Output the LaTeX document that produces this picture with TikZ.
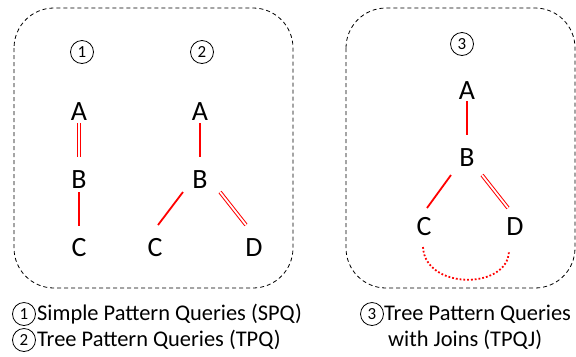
\documentclass[tikz,border=0pt]{standalone}
\usepackage{fontspec}
\setmainfont{Carlito}
\begin{document}
\begin{tikzpicture}[x=1bp,y=-1bp]
\tikzset{
  letter/.style={font=\fontsize{28}{28}\selectfont, inner sep=0pt},
  num/.style={draw, circle, line width=0.8bp, minimum size=23bp, inner sep=0pt, font=\fontsize{17}{17}\selectfont},
  edge/.style={draw=red, line width=1.8bp},
  dedge/.style={draw=red, line width=1bp, double=white, double distance=1.8bp},
  group/.style={draw, dashed, dash pattern=on 4bp off 3bp, line width=0.8bp, rounded corners=40bp},
  caption/.style={anchor=west, inner sep=0pt, font=\fontsize{22.5}{22.5}\selectfont}
}
\useasboundingbox (0,0) rectangle (576,356);
% dashed groups
\draw[group] (14,8) rectangle (293,288);
\draw[group] (346,8) rectangle (575,288);
% numbers
\node[num] (n1) at (82,52) {1};
\node[num] (n2) at (202,52) {2};
\node[num] (n3) at (462,44) {3};
% tree 1
\node[letter] (a1) at (79,112) {A};
\node[letter] (b1) at (79,180) {B};
\node[letter] (c1) at (79,248) {C};
\draw[dedge] ([yshift=-11bp]a1.center) -- ([yshift=23bp]b1.center);
\draw[edge] ([yshift=-12bp]b1.center) -- ([yshift=22bp]c1.center);
% tree 2
\node[letter] (a2) at (200,112) {A};
\node[letter] (b2) at (200,180) {B};
\node[letter] (c2) at (155,248) {C};
\node[letter] (d2) at (254,248) {D};
\draw[edge] ([yshift=-11bp]a2.center) -- ([yshift=23bp]b2.center);
\draw[edge] ([shift={(-17bp,-12bp)}]b2.center) -- ([shift={(3bp,23bp)}]c2.center);
\draw[dedge] ([shift={(20bp,-12bp)}]b2.center) -- ([shift={(-8bp,23bp)}]d2.center);
% tree 3
\node[letter] (a3) at (467,91) {A};
\node[letter] (b3) at (467,158) {B};
\node[letter] (c3) at (424,227) {C};
\node[letter] (d3) at (515,227) {D};
\draw[edge] ([yshift=-10bp]a3.center) -- ([yshift=23bp]b3.center);
\draw[edge] ([shift={(-16bp,-17bp)}]b3.center) -- ([shift={(3bp,19bp)}]c3.center);
\draw[dedge] ([shift={(15bp,-17bp)}]b3.center) -- ([shift={(-7bp,19bp)}]d3.center);
\draw[red, line width=1.8bp, dash pattern=on 1.8bp off 2bp]
  ([shift={(-1bp,-20bp)}]c3.center) .. controls (425,290) and (508,290) .. ([shift={(-6bp,-24bp)}]d3.center);
% captions
\node[num] (k1) at (24,314) {1};
\node[caption] (t1) at (37,314) {Simple Pattern Queries (SPQ)};
\node[num] (k2) at (24,340) {2};
\node[caption] (t2) at (37,340) {Tree Pattern Queries (TPQ)};
\node[num] (k3) at (372,314) {3};
\node[caption] (t3) at (384,314) {Tree Pattern Queries};
\node[caption] (t4) at (388,340) {with Joins (TPQJ)};
\end{tikzpicture}
\end{document}
